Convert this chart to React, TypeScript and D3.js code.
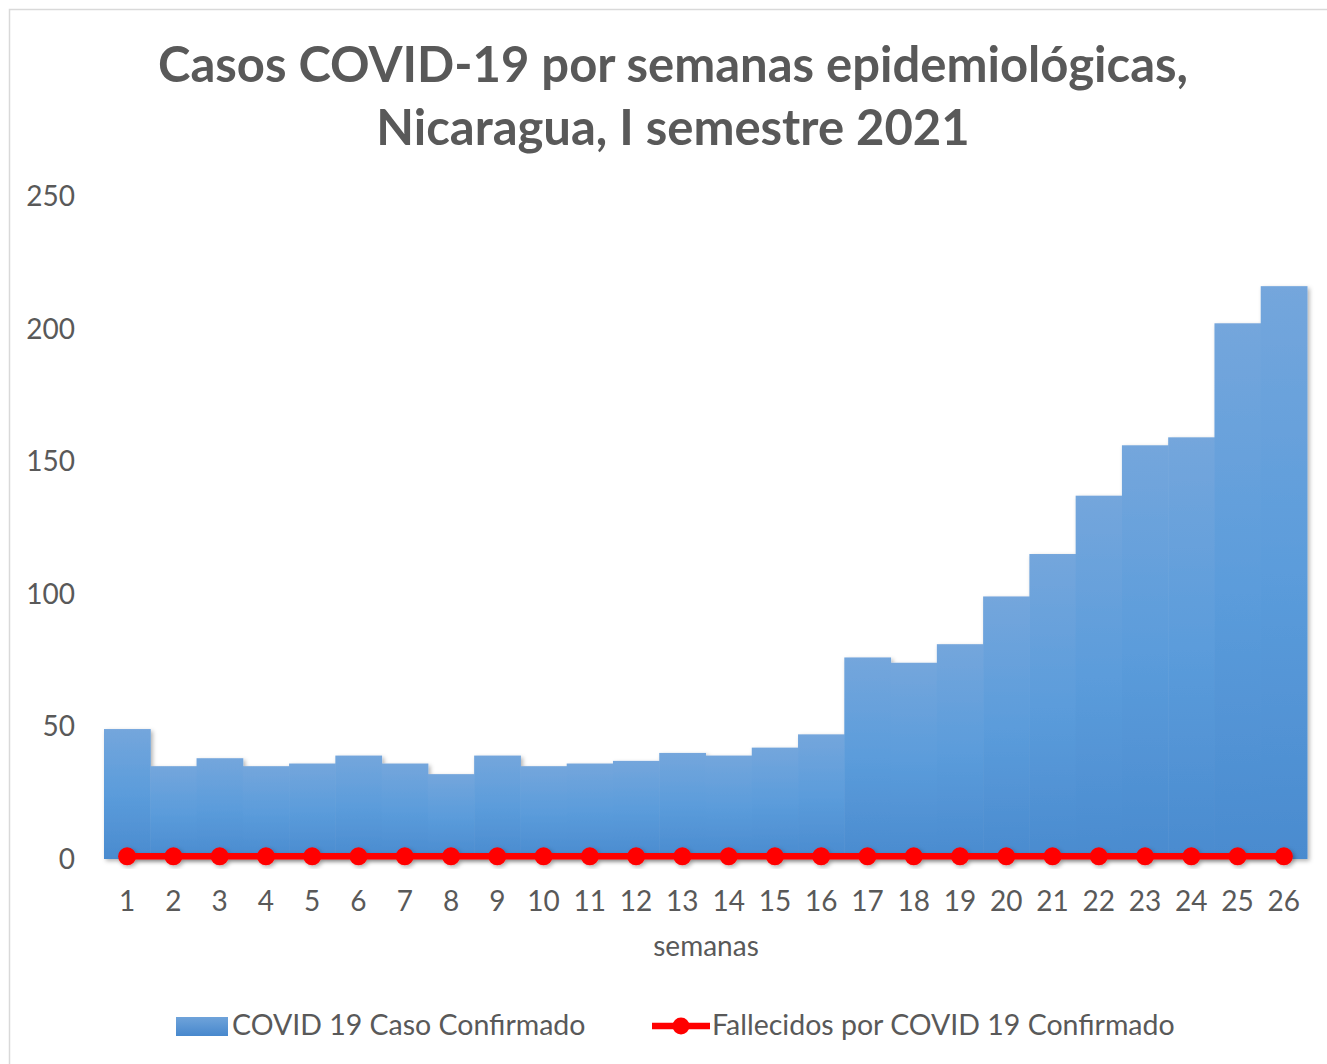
import React from "react";
import * as d3 from "d3";

const weeks = ["1","2","3","4","5","6","7","8","9","10","11","12","13","14","15","16","17","18","19","20","21","22","23","24","25","26"];
const casos = [49,35,38,35,36,39,36,32,39,35,36,37,40,39,42,47,76,74,81,99,115,137,156,159,202,216];
const fallecidos = [1,1,1,1,1,1,1,1,1,1,1,1,1,1,1,1,1,1,1,1,1,1,1,1,1,1];
const yTicks = [0,50,100,150,200,250];
const titleLines = ["Casos COVID-19 por semanas epidemiológicas,", "Nicaragua, I semestre 2021"];
const xTitle = "semanas";
const seriesNames = ["COVID 19 Caso Confirmado", "Fallecidos por COVID 19 Confirmado"];

const W = 1327, H = 1064;
const FONT = "Lato, 'Open Sans', sans-serif";
const GREY = "#595959";

export default function App() {
  const x = d3.scaleBand<string>().domain(weeks).range([104, 1307]).padding(0);
  const y = d3.scaleLinear().domain([0, 250]).range([859, 196]);
  const line = d3.line<number>()
    .x((_, i) => (x(weeks[i]) as number) + x.bandwidth() / 2)
    .y((d) => y(d));

  return (
    <svg width={W} height={H} style={{ position: "absolute", left: 0, top: 0, background: "#fff" }}>
      <defs>
        <linearGradient id="barGrad" x1="0" y1="0" x2="0" y2="1">
          <stop offset="0" stopColor="#74a6dc" />
          <stop offset="0.5" stopColor="#5b9cdb" />
          <stop offset="1" stopColor="#4a8bcf" />
        </linearGradient>
        <linearGradient id="legGrad" x1="0" y1="0" x2="0" y2="1">
          <stop offset="0" stopColor="#6fa3da" />
          <stop offset="1" stopColor="#4788cd" />
        </linearGradient>
        <filter id="shadow" x="-20%" y="-20%" width="140%" height="140%">
          <feDropShadow dx="2" dy="2" stdDeviation="2" floodColor="#000" floodOpacity="0.3" />
        </filter>
      </defs>
      <rect x={9.5} y={9.5} width={1330} height={1070} fill="#fff" stroke="#d9d9d9" strokeWidth={1.5} />
      {titleLines.map((t, i) => (
        <text key={i} x={673} y={82 + i * 63} textAnchor="middle" fontFamily={FONT} fontWeight="bold" fontSize={49} fill={GREY}>
          {t}
        </text>
      ))}
      {yTicks.map((t) => (
        <text key={t} x={75} y={y(t) + 10} textAnchor="end" fontFamily={FONT} fontSize={28} fill={GREY}>
          {t}
        </text>
      ))}
      <g filter="url(#shadow)">
        {casos.map((v, i) => (
          <rect key={i} x={x(weeks[i]) as number} y={y(v)} width={x.bandwidth() + 0.5} height={y(0) - y(v)} fill="url(#barGrad)" />
        ))}
      </g>
      <g filter="url(#shadow)">
        <path d={line(fallecidos) as string} fill="none" stroke="#ff0000" strokeWidth={6.5} />
        {fallecidos.map((v, i) => (
          <circle key={i} cx={(x(weeks[i]) as number) + x.bandwidth() / 2} cy={y(v)} r={9} fill="#ff0000" />
        ))}
      </g>
      {weeks.map((w) => (
        <text key={w} x={(x(w) as number) + x.bandwidth() / 2} y={911} textAnchor="middle" fontFamily={FONT} fontSize={28} fill={GREY}>
          {w}
        </text>
      ))}
      <text x={706} y={956} textAnchor="middle" fontFamily={FONT} fontSize={28} fill={GREY}>{xTitle}</text>
      <rect x={176} y={1017} width={52} height={19} fill="url(#legGrad)" />
      <text x={232} y={1035} fontFamily={FONT} fontSize={28.5} fill={GREY}>{seriesNames[0]}</text>
      <line x1={652} y1={1026} x2={710} y2={1026} stroke="#ff0000" strokeWidth={6.5} />
      <circle cx={681} cy={1026} r={8.5} fill="#ff0000" />
      <text x={712} y={1035} fontFamily={FONT} fontSize={28.5} fill={GREY}>{seriesNames[1]}</text>
    </svg>
  );
}
